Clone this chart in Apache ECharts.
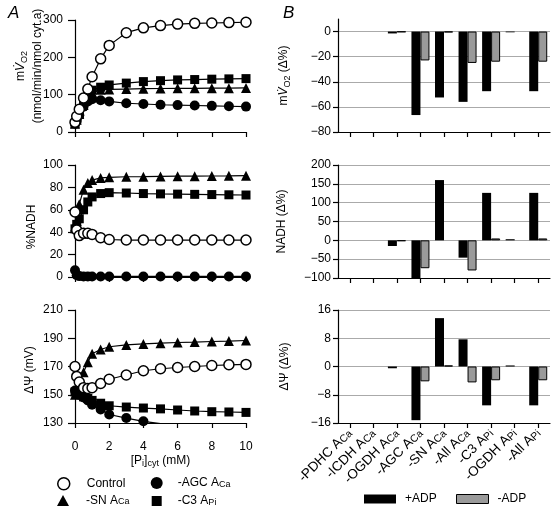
<!DOCTYPE html>
<html><head><meta charset="utf-8">
<script src="https://cdn.jsdelivr.net/npm/echarts@6/dist/echarts.min.js"></script>
<style>html,body{margin:0;padding:0;background:#fff}#c{width:552px;height:509px}</style>
</head><body><div id="c"></div>
<script>
// ---- Panel A data: x = cytosolic Pi (mM)
const pi = [0, 0.1, 0.25, 0.5, 0.75, 1, 1.5, 2, 3, 4, 5, 6, 7, 8, 9, 10];
// mVO2 (nmol/min/nmol cyt.a)
const vo2Control = [26, 42, 61, 91, 115, 148, 196, 232, 266, 279, 285, 289, 291, 292, 293, 294];
const vo2AGC     = [22, 30, 45, 68, 82, 88, 85, 82, 77, 75, 73, 72, 71, 70, 69, 68];
const vo2SN      = [22, 33, 48, 72, 92, 105, 113, 114, 115, 116, 116.5, 117, 117, 117.5, 117.5, 118];
const vo2C3      = [22, 33, 48, 74, 96, 112, 120, 126, 131, 135, 137.5, 139.5, 140.5, 141.5, 142.3, 143];
// %NADH
const nadhControl = [58, 42, 37, 39, 39, 38, 35, 33.5, 33, 33, 33, 33, 33, 33, 33, 33];
const nadhAGC     = [6, 1.5, 0.8, 0.5, 0.5, 0.5, 0.5, 0.5, 0.5, 0.5, 0.5, 0.5, 0.5, 0.5, 0.5, 0.5];
const nadhSN      = [45, 50, 65, 78, 84, 86.5, 88.5, 89, 89.5, 89.6, 89.8, 90, 90, 90.2, 90.3, 90.5];
const nadhC3      = [43, 47, 52, 60, 67, 71.5, 74.5, 75.3, 75, 74.5, 74.2, 74, 73.8, 73.6, 73.4, 73.2];
// Delta Psi (mV)
const psiControl = [170, 163, 159, 155, 154.5, 155, 158, 161, 164, 167, 168.4, 169.3, 170, 170.7, 171.2, 171.5];
const psiAGC     = [153, 152, 150, 148, 146, 143, 139.5, 136, 133.5, 131.2, 129.5, 128.5, 127.8, 127.2, 126.7, 126.3];
const psiSN      = [150, 152, 157, 166, 173, 179, 182, 184, 185.3, 186, 186.5, 187, 187.3, 187.7, 188, 188.4];
const psiC3      = [152, 151, 150, 148.5, 147.5, 146, 144, 142.2, 141.3, 140.6, 140, 139.2, 138.5, 138, 137.8, 137.5];

// ---- Panel B data (null = no visible bar)
const categories = ['-PDHC ACa', '-ICDH ACa', '-OGDH ACa', '-AGC ACa', '-SN ACa', '-All ACa', '-C3 APi', '-OGDH APi', '-All APi'];
const vo2PlusADP   = [null, null, -1.5, -66.5, -52.5, -56, -47.5, -0.6, -47.5];
const vo2MinusADP  = [null, null, -0.4, -23, -0.6, -25, -24, null, -24];
const nadhPlusADP  = [null, null, -15, -100, 160, -46, 126, 3, 126];
const nadhMinusADP = [null, null, -2, -74, null, -80, 5, null, 5];
const psiPlusADP   = [null, null, -0.5, -15.2, 13.7, 7.7, -11, 0.3, -11];
const psiMinusADP  = [null, null, null, -4.2, 0.3, -4.5, -3.9, null, -3.9];

// ---- ticks
const vo2Ticks = {min: 0, max: 300, interval: 100};
const nadhTicks = {min: 0, max: 100, interval: 20};
const psiTicks = {min: 130, max: 210, interval: 20};
const piTicks = {min: 0, max: 10, interval: 2};
const dVo2Ticks = {min: -80, max: 10, interval: 20};
const dNadhTicks = {min: -100, max: 200, interval: 50};
const dPsiTicks = {min: -16, max: 16, interval: 8};

const FONT = '"Liberation Sans", Arial, Helvetica, sans-serif';
const rich = {
  s: {fontSize: 9, fontFamily: FONT, color: '#000', verticalAlign: 'bottom', lineHeight: 9},
  i: {fontSize: 12, fontFamily: FONT, color: '#000', fontStyle: 'italic'}
};
const richCat = {
  s: {fontSize: 10.5, fontFamily: FONT, color: '#000', verticalAlign: 'bottom', lineHeight: 10}
};
const subFmt = s => s.replace(/A(Ca|Pi)$/, 'A{s|$1}');
const minus = v => (v < 0 ? '\u2212' + Math.abs(v) : String(v));

const axisLine = {show: true, onZero: false, lineStyle: {color: '#000', width: 1.2}};
const axisTick = {show: true, inside: false, length: 5, lineStyle: {color: '#000', width: 1.2}};

const grids = [
  {left: 75, top: 20, width: 171, height: 112},
  {left: 75, top: 165, width: 171, height: 112},
  {left: 75, top: 310, width: 171, height: 113},
  {left: 338, top: 19, width: 212, height: 113},
  {left: 338, top: 165, width: 212, height: 113},
  {left: 338, top: 310, width: 212, height: 113}
];

const xAxes = [];
for (let g = 0; g < 3; g++) {
  xAxes.push(Object.assign({type: 'value', gridIndex: g, axisLine, axisTick,
    splitLine: {show: false},
    axisLabel: {show: g === 2, fontSize: 12, fontFamily: FONT, color: '#000', margin: 18},
    name: g === 2 ? '[P{s|i}]{s|cyt} (mM)' : '', nameLocation: 'middle', nameGap: 30,
    nameTextStyle: {fontSize: 12, fontFamily: FONT, color: '#000', lineHeight: 14, rich}
  }, piTicks));
}
for (let g = 3; g < 6; g++) {
  xAxes.push({type: 'category', gridIndex: g, data: categories, axisLine,
    axisTick: Object.assign({alignWithLabel: true}, axisTick),
    axisLabel: {show: g === 5, interval: 0, rotate: 45, fontSize: 13.5, fontFamily: FONT, color: '#000',
      margin: 8, formatter: v => subFmt(v), rich: richCat}
  });
}

function yAx(g, ticks, name, gap, right) {
  const onTick = v => Math.abs(((v - ticks.min) % ticks.interval)) < 1e-9;
  return Object.assign({type: 'value', gridIndex: g, axisLine,
    axisTick: Object.assign({}, axisTick, {length: right ? 5 : 7}),
    splitLine: right ? {show: true, showMinLine: false, showMaxLine: onTick(ticks.max),
      lineStyle: {color: '#aaa', width: 1}} : {show: false},
    axisLabel: {fontSize: 12, fontFamily: FONT, color: '#000', margin: right ? 7 : 12, showMaxLabel: onTick(ticks.max),
      formatter: v => (onTick(v) ? minus(v) : '')},
    name, nameLocation: 'middle', nameGap: gap,
    nameTextStyle: {fontSize: 12, fontFamily: FONT, color: '#000', lineHeight: 16, rich}
  }, ticks);
}
const yAxes = [
  yAx(0, vo2Ticks, '', 0, false),
  yAx(1, nadhTicks, '', 0, false),
  yAx(2, psiTicks, '', 0, false),
  yAx(3, dVo2Ticks, 'm{i|V\u0307}{s|O2} (\u0394%)', 46, true),
  yAx(4, dNadhTicks, 'NADH (\u0394%)', 48, true),
  yAx(5, dPsiTicks, '\u0394\u03A8 (\u0394%)', 45, true)
];

// rotated axis titles of panel A
function vText(x, y, text) {
  return {type: 'text', x, y, rotation: Math.PI / 2, silent: true,
    style: {text, fill: '#000', font: '12px ' + FONT, fontSize: 12, fontFamily: FONT,
      align: 'center', verticalAlign: 'middle', textAlign: 'center', textVerticalAlign: 'middle',
      lineHeight: 17, rich}};
}
const graphics = [
  vText(29, 66, 'm{i|V\u0307}{s|O2}\n(nmol/min/nmol cyt.a)'),
  vText(32, 227, '%NADH'),
  vText(30, 370, '\u0394\u03A8 (mV)')
];

const styles = {
  'Control': {symbol: 'circle', symbolSize: 10, itemStyle: {color: '#fff', borderColor: '#000', borderWidth: 1.5}, z: 5},
  '-AGC ACa': {symbol: 'circle', symbolSize: 10, itemStyle: {color: '#000', borderColor: '#000', borderWidth: 0}, z: 4},
  '-SN ACa': {symbol: 'triangle', symbolSize: 10, itemStyle: {color: '#000', borderColor: '#000', borderWidth: 0}, z: 3},
  '-C3 APi': {symbol: 'rect', symbolSize: 9, itemStyle: {color: '#000', borderColor: '#000', borderWidth: 0}, z: 3}
};
const panels = [
  {'-C3 APi': vo2C3, '-SN ACa': vo2SN, '-AGC ACa': vo2AGC, 'Control': vo2Control},
  {'-C3 APi': nadhC3, '-SN ACa': nadhSN, '-AGC ACa': nadhAGC, 'Control': nadhControl},
  {'-C3 APi': psiC3, '-SN ACa': psiSN, '-AGC ACa': psiAGC, 'Control': psiControl}
];
const series = [];
panels.forEach((p, g) => {
  Object.keys(p).forEach(name => {
    const st = styles[name];
    series.push({type: 'line', name, xAxisIndex: g, yAxisIndex: g,
      data: pi.map((x, k) => [x, p[name][k]]),
      symbol: st.symbol, symbolSize: st.symbolSize, showSymbol: true, showAllSymbol: true,
      itemStyle: st.itemStyle, lineStyle: {color: '#000', width: 1.2}, z: st.z, clip: true,
      emphasis: {disabled: true}});
  });
});
const bars = [[vo2PlusADP, vo2MinusADP], [nadhPlusADP, nadhMinusADP], [psiPlusADP, psiMinusADP]];
bars.forEach((pair, k) => {
  const g = k + 3;
  series.push({type: 'bar', name: '+ADP', xAxisIndex: g, yAxisIndex: g, data: pair[0], barWidth: 9, barGap: '0%',
    itemStyle: {color: '#000'}, emphasis: {disabled: true}});
  series.push({type: 'bar', name: '-ADP', xAxisIndex: g, yAxisIndex: g, data: pair[1], barWidth: 9, barGap: '0%',
    itemStyle: {color: '#9a9a9a', borderColor: '#000', borderWidth: 1}, emphasis: {disabled: true}});
});

function leg(name, icon, style, left, top, w, h, pad) {
  return {data: [{name, icon, itemStyle: style}], left, top, padding: 0, itemWidth: w, itemHeight: h,
    selectedMode: false, formatter: n => subFmt(n),
    textStyle: {fontSize: 12, fontFamily: FONT, color: '#000', rich, padding: [0, 0, 0, pad]}};
}
const legends = [
  leg('Control', 'circle', styles['Control'].itemStyle, 57, 477, 12, 12, 12),
  leg('-AGC ACa', 'circle', styles['-AGC ACa'].itemStyle, 150.7, 477, 12, 12, 10),
  leg('-SN ACa', 'triangle', styles['-SN ACa'].itemStyle, 57, 494.5, 12, 11, 12),
  leg('-C3 APi', 'rect', styles['-C3 APi'].itemStyle, 151.7, 495, 10, 10, 11),
  leg('+ADP', 'rect', {color: '#000'}, 364, 493, 32, 9, 4),
  leg('-ADP', 'rect', {color: '#9a9a9a', borderColor: '#000', borderWidth: 1}, 456, 493, 32, 9, 4)
];

const chart = echarts.init(document.getElementById('c'), null, {renderer: 'canvas'});
chart.setOption({
  animation: false,
  backgroundColor: '#fff',
  textStyle: {fontFamily: FONT},
  title: [
    {text: 'A', left: 3, top: 0, textStyle: {fontStyle: 'italic', fontSize: 17, fontWeight: 'normal', color: '#000', fontFamily: FONT}},
    {text: 'B', left: 278, top: 0, textStyle: {fontStyle: 'italic', fontSize: 17, fontWeight: 'normal', color: '#000', fontFamily: FONT}}
  ],
  grid: grids,
  xAxis: xAxes,
  yAxis: yAxes,
  legend: legends,
  graphic: graphics,
  series
});
</script></body></html>
